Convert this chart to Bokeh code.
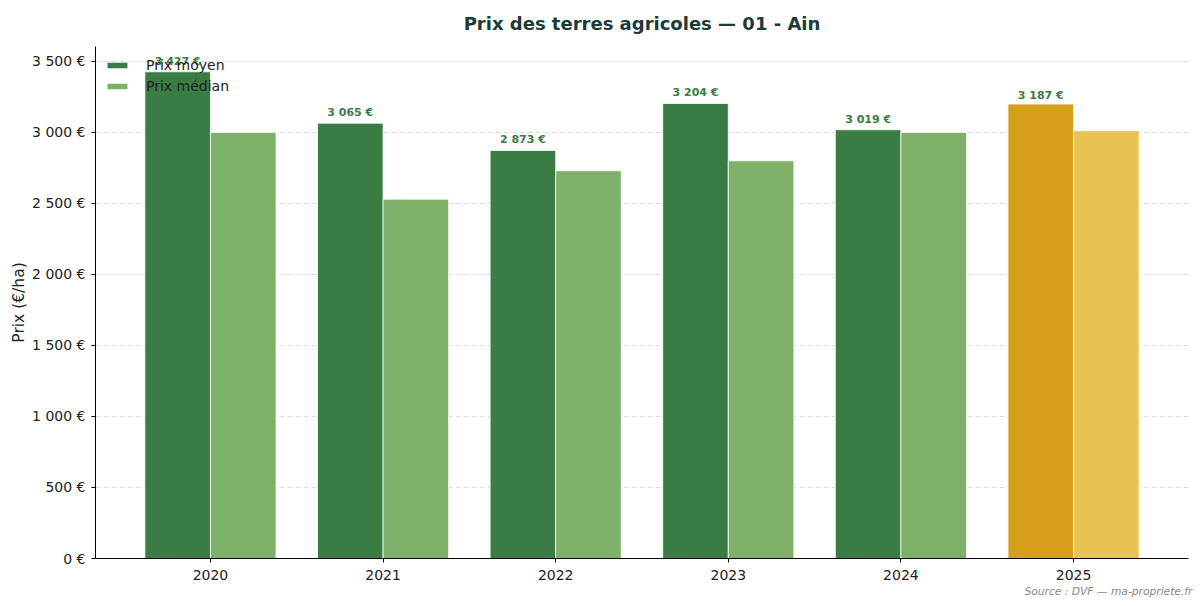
from bokeh.plotting import figure
from bokeh.models import ColumnDataSource, Range1d, FixedTicker, Title, Legend, LegendItem
from bokeh.embed import file_html
from bokeh.resources import INLINE

years = ["2020", "2021", "2022", "2023", "2024", "2025"]
prix_moyen = [3427, 3065, 2873, 3204, 3019, 3200]
prix_moyen_affiche = [3427, 3065, 2873, 3204, 3019, 3187]
prix_median = [3000, 2530, 2730, 2800, 3000, 3012]
y_ticks = [0, 500, 1000, 1500, 2000, 2500, 3000, 3500]

def fmt(v):
    return "{:,}".format(v).replace(",", " ") + " €"

FONT = "DejaVu Sans"
idx = list(range(len(years)))
c_moy = ["#3a7d44"] * 5 + ["#d4a01a"]
c_med = ["#7fb069"] * 5 + ["#e8c252"]

src_moy = ColumnDataSource(dict(x=[i - 0.19 for i in idx], top=prix_moyen, color=c_moy))
src_lab = ColumnDataSource(dict(x=[i - 0.19 for i in idx], y=prix_moyen_affiche,
                                label=[fmt(v) for v in prix_moyen_affiche]))
src_med = ColumnDataSource(dict(x=[i + 0.19 for i in idx], top=prix_median, color=c_med))

p = figure(width=1195, height=598, output_backend="svg", toolbar_location=None,
           x_range=Range1d(-0.666, 5.666), y_range=Range1d(0, 3605),
           min_border_left=95, min_border_right=7, min_border_top=46, min_border_bottom=40)
p.outline_line_color = None
p.background_fill_color = "white"

p.title = Title(text="Prix des terres agricoles — 01 - Ain", align="center",
                text_font=FONT, text_font_size="18px", text_font_style="bold",
                text_color="#1b3a3a", standoff=21, vertical_align="top")

r1 = p.vbar(x="x", top="top", width=0.38, bottom=0, source=src_moy, fill_color="color",
            line_color="white", line_width=1, line_alpha=0.8)
r2 = p.vbar(x="x", top="top", width=0.38, bottom=0, source=src_med, fill_color="color",
            line_color="white", line_width=1, line_alpha=0.8)

p.text(x="x", y="y", text="label", source=src_lab, text_align="center", text_baseline="bottom",
       y_offset=-4, text_font_size="11px", text_font_style="bold", text_color="#3a7d44",
       text_font={"value": FONT})

# axes
p.xaxis.ticker = FixedTicker(ticks=idx)
p.xaxis.major_label_overrides = {i: y for i, y in zip(idx, years)}
p.yaxis.ticker = FixedTicker(ticks=y_ticks)
p.yaxis.major_label_overrides = {v: fmt(v) for v in y_ticks}
for ax in (p.xaxis[0], p.yaxis[0]):
    ax.minor_tick_line_color = None
    ax.major_tick_out = 4
    ax.major_tick_in = 0
    ax.major_label_standoff = 6
    ax.major_label_text_font = FONT
    ax.major_label_text_font_size = "14px"
    ax.major_label_text_color = "#222222"
    ax.axis_line_color = "black"
    ax.major_tick_line_color = "black"
p.xaxis.major_label_standoff = 7
p.yaxis.axis_label = "Prix (€/ha)"
p.yaxis.axis_label_text_font = FONT
p.yaxis.axis_label_text_font_size = "15.5px"
p.yaxis.axis_label_text_font_style = "normal"
p.yaxis.axis_label_text_color = "#222222"
p.yaxis.axis_label_standoff = 1

p.xgrid.grid_line_color = None
p.ygrid.grid_line_color = "#dddddd"
p.ygrid.grid_line_dash = "5 3"
p.ygrid.grid_line_width = 1

legend = Legend(items=[LegendItem(label="Prix moyen", renderers=[r1], index=0),
                       LegendItem(label="Prix médian", renderers=[r2], index=0)],
                location=(9, 464), background_fill_alpha=0, border_line_alpha=0,
                glyph_width=26, glyph_height=8, label_height=14, spacing=5,
                label_standoff=16, margin=0, padding=0,
                label_text_font=FONT, label_text_font_size="14px", label_text_color="#222222")
p.add_layout(legend)

src_title = Title(text="Source : DVF — ma-propriete.fr", align="right", offset=-4,
                  text_font=FONT, text_font_size="10.7px", text_font_style="italic",
                  text_color="#888888", standoff=0)
p.add_layout(src_title, "below")

open("out.html", "w").write(file_html(p, INLINE))
